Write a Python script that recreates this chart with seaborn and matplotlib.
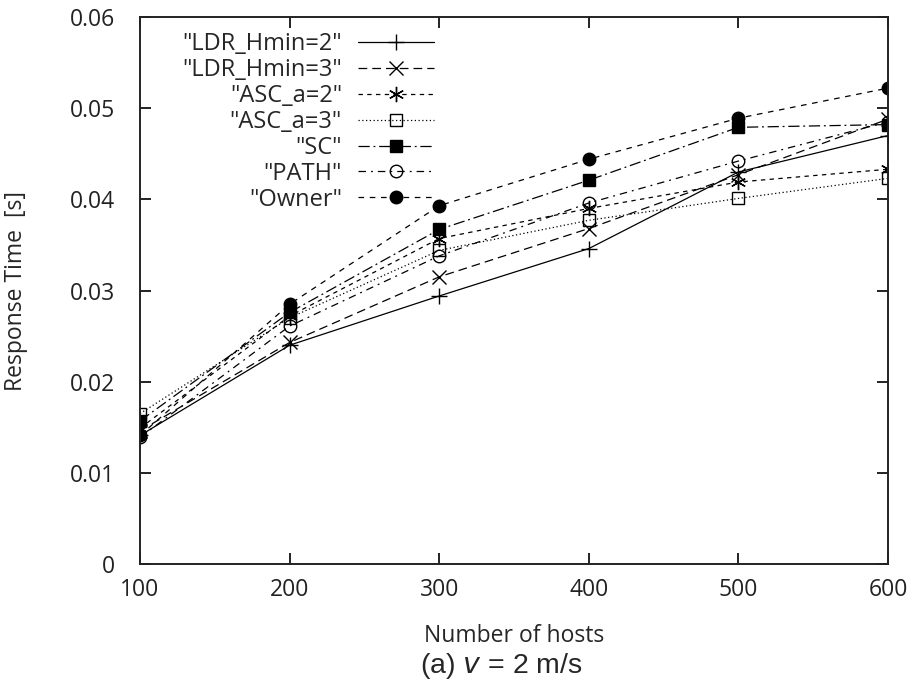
import pandas as pd
import matplotlib
matplotlib.use("Agg")
import matplotlib.pyplot as plt
import seaborn as sns

# ============================
# Data
# ============================
hosts = [100, 200, 300, 400, 500, 600]

ldr_hmin2 = [0.0141, 0.0240, 0.0294, 0.0346, 0.0430, 0.0470]
ldr_hmin3 = [0.0146, 0.0243, 0.0315, 0.0368, 0.0427, 0.0488]
asc_a2 = [0.0149, 0.0272, 0.0357, 0.0390, 0.0419, 0.0433]
asc_a3 = [0.0165, 0.0270, 0.0344, 0.0377, 0.0401, 0.0423]
sc = [0.0157, 0.0276, 0.0367, 0.0421, 0.0479, 0.0482]
path = [0.0139, 0.0261, 0.0338, 0.0396, 0.0442, 0.0485]
owner = [0.0141, 0.0285, 0.0393, 0.0444, 0.0489, 0.0522]

labels = ['"LDR_Hmin=2"', '"LDR_Hmin=3"', '"ASC_a=2"', '"ASC_a=3"',
          '"SC"', '"PATH"', '"Owner"']
series = [ldr_hmin2, ldr_hmin3, asc_a2, asc_a3, sc, path, owner]

# ============================
# Styles (gnuplot-like)
# ============================
styles = [
    dict(marker="+", linestyle="-", mfc="black", ms=11),
    dict(marker="x", linestyle=(0, (7, 4)), mfc="black", ms=10),
    dict(marker=(6, 2, 0), linestyle=(0, (3.5, 3.5)), mfc="black", ms=11),
    dict(marker="s", linestyle=(0, (1, 2)), mfc="none", ms=9),
    dict(marker="s", linestyle=(0, (9, 3, 1.5, 3)), mfc="black", ms=9),
    dict(marker="o", linestyle=(0, (6, 4, 1.5, 4)), mfc="none", ms=9),
    dict(marker="o", linestyle=(0, (4.5, 4.5)), mfc="black", ms=9),
]

sns.set_style("ticks")
plt.rcParams["font.family"] = ["Open Sans", "DejaVu Sans"]

fig = plt.figure(figsize=(9.11, 6.88), dpi=100)
ax = fig.add_axes([0.1537, 0.1802, 0.8211, 0.7951])

for lab, vals, st in zip(labels, series, styles):
    df = pd.DataFrame({"hosts": hosts, "time": vals})
    sns.lineplot(data=df, x="hosts", y="time", ax=ax, label=lab,
                 color="black", lw=0.9, mec="black", mew=1.0, **st)

ax.set_xlim(100, 600)
ax.set_ylim(0, 0.06)
ax.set_xticks(hosts)
ax.set_yticks([0, 0.01, 0.02, 0.03, 0.04, 0.05, 0.06])
ax.set_yticklabels(["0", "0.01", "0.02", "0.03", "0.04", "0.05", "0.06"])

for s in ax.spines.values():
    s.set_visible(True)
    s.set_linewidth(1.4)
    s.set_color("#222222")
ax.tick_params(direction="in", length=8, width=1.4, top=True, right=True,
               labelsize=16.5, colors="#222222", pad=10)
ax.tick_params(axis="y", pad=18)

ax.set_xlabel("Number of hosts", fontsize=16.5, labelpad=16)
ax.set_ylabel("Response Time  [s]", fontsize=16.5, labelpad=30)

fig.text(0.55, 0.022, "(a) $\\mathit{v}$ = 2 m/s", ha="center",
         fontsize=20.5, family="Liberation Sans")

leg = ax.legend(loc="upper right", bbox_to_anchor=(0.393, 0.972),
                frameon=False, markerfirst=False, numpoints=1,
                borderaxespad=0, borderpad=0,
                handlelength=3.2, handletextpad=0.7, labelspacing=0.08,
                fontsize=17)

fig.savefig("out.png", dpi=100)
